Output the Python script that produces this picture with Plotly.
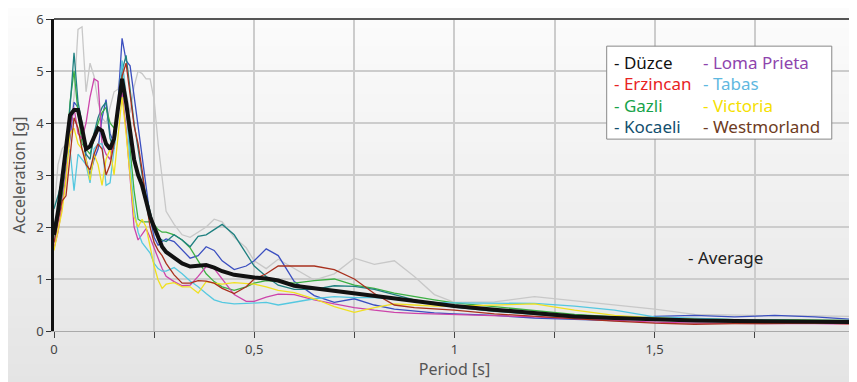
import base64
import struct
import zlib

import plotly.graph_objects as go

period = [0.00, 0.01, 0.02, 0.03, 0.04, 0.05, 0.06, 0.07, 0.08, 0.09, 0.10, 0.11, 0.12, 0.13, 0.14,
          0.15, 0.16, 0.17, 0.18, 0.19, 0.20, 0.21, 0.22, 0.23, 0.24, 0.25, 0.26, 0.27, 0.28, 0.30,
          0.32, 0.34, 0.36, 0.38, 0.40, 0.42, 0.45, 0.48, 0.50, 0.53, 0.56, 0.60, 0.65, 0.70, 0.75,
          0.80, 0.85, 0.90, 0.95, 1.00, 1.10, 1.20, 1.30, 1.40, 1.50, 1.60, 1.70, 1.80, 1.90, 2.00]

duzce = [2.3, 3.2, 3.5, 3.6, 3.9, 4.5, 5.8, 5.85, 4.6, 5.15, 4.9, 4.4, 4.1, 4.0, 4.3,
         4.6, 4.65, 5.2, 4.6, 4.2, 4.7, 5.0, 4.95, 4.85, 4.85, 4.45, 3.6, 2.9, 2.3, 2.05,
         1.85, 1.8, 1.9, 2.0, 2.15, 2.1, 1.8, 1.6, 1.35, 1.2, 1.38, 1.2, 0.98, 1.1, 1.4,
         1.28, 1.35, 1.05, 0.7, 0.55, 0.56, 0.66, 0.58, 0.5, 0.42, 0.32, 0.3, 0.29, 0.29, 0.28]
erzincan = [2.0, 2.3, 2.6, 3.2, 3.7, 4.4, 4.3, 3.9, 3.3, 3.0, 3.3, 3.5, 4.1, 4.45, 3.8,
            3.6, 4.4, 5.63, 5.2, 5.1, 4.5, 3.9, 3.4, 2.8, 2.2, 1.8, 1.65, 1.72, 1.77, 1.72,
            1.55, 1.4, 1.45, 1.62, 1.55, 1.35, 1.18, 1.25, 1.35, 1.58, 1.45, 0.95, 0.68, 0.55, 0.62,
            0.5, 0.42, 0.38, 0.35, 0.33, 0.3, 0.25, 0.22, 0.2, 0.28, 0.3, 0.27, 0.3, 0.27, 0.22]
gazli = [1.8, 2.2, 2.6, 3.3, 4.4, 5.0, 4.2, 3.6, 3.5, 3.4, 3.7, 4.0, 4.2, 4.3, 4.0,
         3.9, 4.2, 4.9, 4.3, 3.5, 2.7, 2.15, 2.1, 2.1, 2.1, 2.05, 1.95, 1.9, 1.9, 1.85,
         1.75, 1.6, 1.35, 1.1, 0.95, 0.85, 0.78, 0.85, 0.92, 0.97, 0.95, 0.92, 0.97, 1.0, 0.88,
         0.82, 0.73, 0.66, 0.6, 0.54, 0.47, 0.4, 0.32, 0.27, 0.25, 0.23, 0.22, 0.22, 0.21, 0.2]
kocaeli = [2.35, 2.6, 2.9, 3.4, 4.3, 5.35, 4.4, 4.0, 3.4, 3.3, 3.8, 4.1, 4.3, 4.4, 3.7,
           3.5, 4.2, 5.0, 5.3, 4.6, 4.0, 3.5, 3.0, 2.6, 2.3, 2.0, 1.8, 1.75, 1.72, 1.85,
           1.75, 1.62, 1.82, 1.85, 1.95, 2.05, 1.85, 1.5, 1.25, 1.05, 0.88, 0.8, 0.8, 0.87, 0.86,
           0.8, 0.7, 0.6, 0.52, 0.46, 0.38, 0.32, 0.26, 0.23, 0.22, 0.2, 0.19, 0.17, 0.16, 0.16]
loma_prieta = [1.6, 1.9, 2.4, 3.0, 3.9, 4.3, 3.8, 3.7, 4.0, 4.5, 4.85, 4.8, 3.6, 3.4, 3.3,
               3.7, 4.2, 4.6, 3.9, 3.0, 2.0, 1.75, 1.85, 1.97, 1.8, 1.6, 1.4, 1.2, 1.05, 0.95,
               0.87, 0.88, 1.05, 1.24, 1.2, 1.0, 0.7, 0.57, 0.57, 0.65, 0.71, 0.7, 0.6, 0.52, 0.45,
               0.4, 0.36, 0.34, 0.33, 0.32, 0.3, 0.27, 0.24, 0.2, 0.17, 0.15, 0.15, 0.14, 0.14, 0.13]
tabas = [1.7, 2.2, 2.8, 3.3, 3.5, 2.7, 3.4, 3.3, 3.2, 2.85, 3.5, 3.6, 3.6, 2.8, 2.85,
         3.5, 4.4, 5.2, 4.5, 3.2, 2.35, 1.9, 1.7, 1.6, 1.5, 1.3, 1.2, 1.15, 1.15, 1.22,
         1.1, 0.96, 0.85, 0.72, 0.6, 0.55, 0.52, 0.53, 0.54, 0.55, 0.5, 0.55, 0.62, 0.66, 0.64,
         0.64, 0.62, 0.58, 0.55, 0.54, 0.54, 0.53, 0.48, 0.4, 0.27, 0.24, 0.22, 0.21, 0.19, 0.18]
victoria = [1.55, 1.9, 2.3, 2.9, 3.8, 3.9, 3.6, 3.5, 3.3, 2.9, 3.4, 3.2, 2.8, 3.3, 3.5,
            3.0, 3.8, 4.5, 3.8, 3.0, 2.2, 2.0, 2.15, 2.0, 1.6, 1.25, 0.98, 0.82, 0.9, 0.93,
            0.85, 0.85, 0.73, 0.95, 0.92, 0.9, 0.93, 0.92, 0.9, 0.85, 0.78, 0.74, 0.62, 0.47, 0.36,
            0.45, 0.52, 0.5, 0.48, 0.48, 0.5, 0.52, 0.4, 0.3, 0.25, 0.22, 0.2, 0.17, 0.15, 0.14]
westmorland = [1.7, 2.1, 2.5, 2.6, 3.4, 4.1, 3.9, 3.5, 3.2, 3.1, 3.4, 3.6, 3.5, 3.0, 3.2,
               3.6, 4.3, 4.9, 5.15, 4.5, 3.95, 3.6, 3.1, 2.5, 2.0, 1.7, 1.55, 1.45, 1.3, 1.08,
               0.92, 0.92, 0.97, 0.96, 0.92, 0.82, 0.72, 0.85, 1.0, 1.1, 1.25, 1.25, 1.25, 1.18, 1.0,
               0.72, 0.5, 0.45, 0.43, 0.4, 0.33, 0.28, 0.24, 0.19, 0.15, 0.13, 0.14, 0.15, 0.15, 0.14]
average = [1.85, 2.3, 2.9, 3.6, 4.15, 4.25, 4.25, 3.9, 3.5, 3.55, 3.75, 3.9, 3.85, 3.6, 3.5,
           3.7, 4.3, 4.85, 4.4, 3.9, 3.3, 3.0, 2.8, 2.5, 2.2, 2.0, 1.8, 1.62, 1.52, 1.42,
           1.3, 1.24, 1.25, 1.27, 1.22, 1.15, 1.08, 1.04, 1.03, 1.01, 0.97, 0.87, 0.82, 0.78, 0.73,
           0.68, 0.63, 0.58, 0.53, 0.48, 0.41, 0.34, 0.28, 0.25, 0.22, 0.2, 0.19, 0.18, 0.17, 0.17]

record_names = ["Düzce", "Erzincan", "Gazli", "Kocaeli", "Loma Prieta", "Tabas", "Victoria", "Westmorland"]
x_tickvals = [0, 0.25, 0.5, 0.75, 1, 1.25, 1.5, 1.75, 2]
x_ticktext = ["0", "", "0,5", "", "1", "", "1,5", "", "2"]

series = [duzce, erzincan, gazli, kocaeli, loma_prieta, tabas, victoria, westmorland]
line_colors = ["#c8c8c8", "#3b4fc0", "#3cb043", "#1f8080", "#cc44aa", "#55c8e0", "#f0e020", "#a8301e"]
legend_colors = ["#111111", "#e8231f", "#17a34a", "#124f6e", "#8e44ad", "#5fb8e0", "#f5e000", "#6e3b22"]


def gradient_png(top, bottom, n=64):
    rows = b""
    for i in range(n):
        v = int(round(top + (bottom - top) * i / (n - 1)))
        rows += b"\x00" + bytes([v])

    def chunk(tag, data):
        c = struct.pack(">I", len(data)) + tag + data
        return c + struct.pack(">I", zlib.crc32(tag + data) & 0xFFFFFFFF)

    png = b"\x89PNG\r\n\x1a\n"
    png += chunk(b"IHDR", struct.pack(">IIBBBBB", 1, n, 8, 0, 0, 0, 0))
    png += chunk(b"IDAT", zlib.compress(rows))
    png += chunk(b"IEND", b"")
    return "data:image/png;base64," + base64.b64encode(png).decode()


fig = go.Figure()
for name, vals, c in zip(record_names, series, line_colors):
    fig.add_trace(go.Scatter(x=period, y=vals, mode="lines", name=name,
                             line=dict(color=c, width=1.3), showlegend=False))
fig.add_trace(go.Scatter(x=period, y=average, mode="lines", name="Average",
                         line=dict(color="#111111", width=4), showlegend=False))

font_family = "Noto Sans, Open Sans, sans-serif"

# background gradient
fig.add_layout_image(source=gradient_png(252, 228), xref="paper", yref="paper",
                     x=-0.06, y=1.04, sizex=1.08, sizey=1.23, xanchor="left", yanchor="top",
                     sizing="stretch", layer="below")

# legend box
fig.add_shape(type="rect", xref="paper", yref="paper", x0=0.690, x1=0.971, y0=0.615, y1=0.913,
              line=dict(color="#888888", width=1), fillcolor="white", layer="above")
col_x = [0.697, 0.808]
row_y = [0.862, 0.792, 0.724, 0.654]
for i, (name, c) in enumerate(zip(record_names, legend_colors)):
    fig.add_annotation(xref="paper", yref="paper", x=col_x[i // 4], y=row_y[i % 4],
                       text="- " + name, showarrow=False, xanchor="left", yanchor="middle",
                       font=dict(family=font_family, size=17, color=c))

fig.add_annotation(xref="paper", yref="paper", x=0.789, y=0.237, text="- Average", showarrow=False,
                   xanchor="left", yanchor="middle", font=dict(family=font_family, size=17, color="#222222"))

# top border
fig.add_shape(type="line", xref="paper", yref="paper", x0=0, x1=1, y0=1, y1=1,
              line=dict(color="#555555", width=2))

fig.update_layout(
    width=857, height=382,
    margin=dict(l=46, r=10, t=11, b=59, autoexpand=False),
    paper_bgcolor="#f0f0f0", plot_bgcolor="rgba(0,0,0,0)",
    font=dict(family=font_family, size=13, color="#444444"),
    xaxis=dict(range=[0, 2.0005], tickvals=x_tickvals, ticktext=x_ticktext, automargin=False,
               ticklabeloverflow="allow",
               showgrid=True, gridcolor="#cccccc", gridwidth=1.5,
               ticks="outside", ticklen=6, tickcolor="#444444", tickwidth=1.2,
               showline=True, linecolor="#aaaaaa", linewidth=1, zeroline=False,
               title=dict(text="Period [s]", font=dict(size=16, color="#555555"), standoff=6),
               tickfont=dict(size=13, color="#444444")),
    yaxis=dict(range=[0, 6], dtick=1, automargin=False,
               showgrid=True, gridcolor="#cccccc", gridwidth=1.5,
               ticks="outside", ticklen=5, tickcolor="#333333",
               showline=True, linecolor="#111111", linewidth=2.5, zeroline=False,
               title=dict(text="Acceleration [g]", font=dict(size=16, color="#555555"), standoff=8),
               tickfont=dict(size=13, color="#444444")),
)

fig.write_html("out.html")
